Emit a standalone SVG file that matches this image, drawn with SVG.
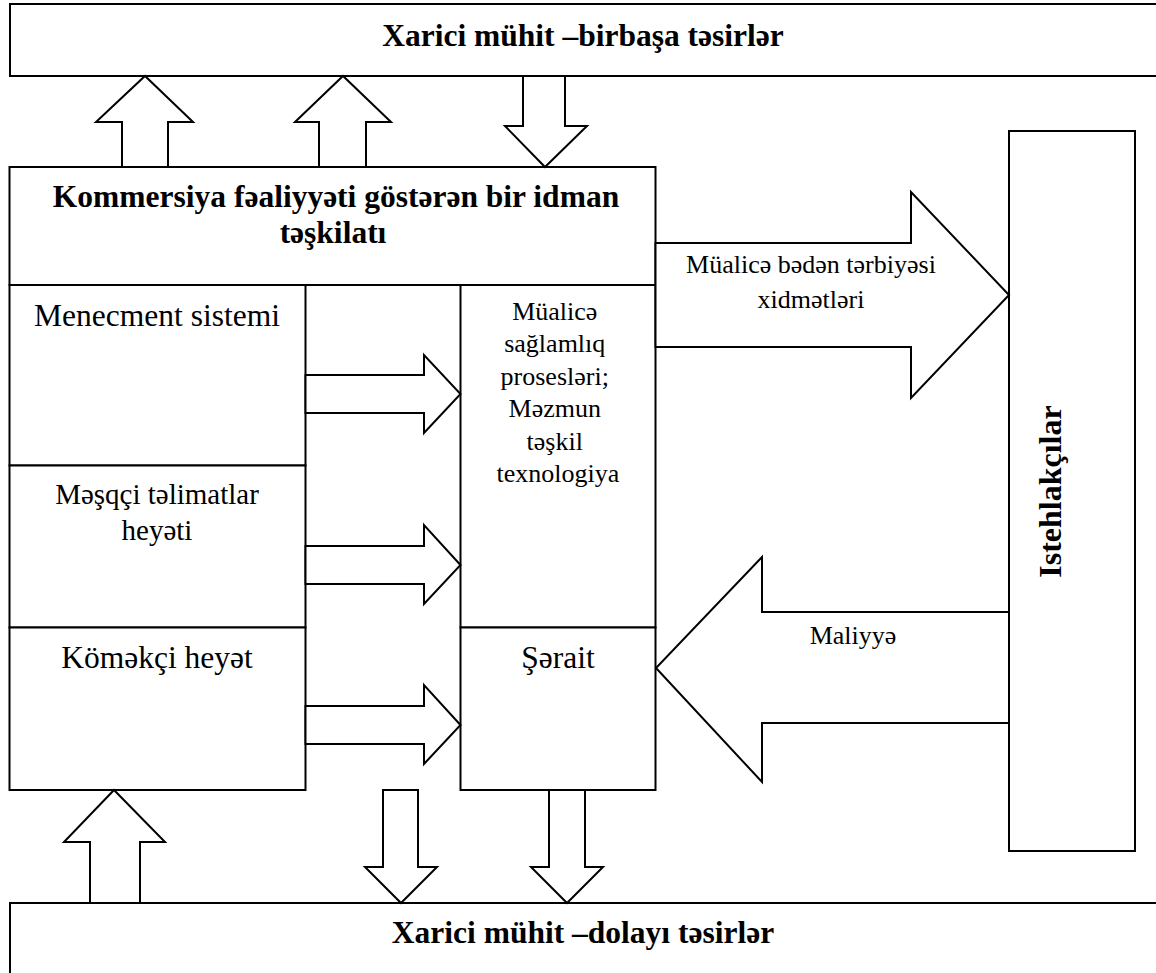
<svg xmlns="http://www.w3.org/2000/svg" width="1156" height="973" viewBox="0 0 1156 973">
<style>
.box{fill:#fff;stroke:#000;stroke-width:2}
.arr{fill:#fff;stroke:#000;stroke-width:2;stroke-linejoin:miter}
text{font-family:"Liberation Serif","DejaVu Serif",serif;fill:#000}
.b{font-weight:bold;font-size:31.5px}
.r{font-size:31.5px}
.s{font-size:26px}
.m{font-size:29px}
</style>
<rect width="1156" height="973" fill="#fff"/>
<g id="top-env">
<rect class="box" x="10" y="4" width="1160" height="72"/>
<text class="b" x="583" y="45.5" text-anchor="middle">Xarici mühit –birbaşa təsirlər</text>
</g>
<g id="org">
<rect class="box" x="9.5" y="167" width="646" height="118"/>
<text class="b" x="336" y="207" text-anchor="middle">Kommersiya fəaliyyəti göstərən bir idman</text>
<text class="b" x="333" y="243" text-anchor="middle">təşkilatı</text>
</g>
<g id="management">
<rect class="box" x="9.5" y="285" width="296" height="180.5"/>
<text class="r" x="157" y="325.5" text-anchor="middle">Menecment sistemi</text>
</g>
<g id="coaches">
<rect class="box" x="9.5" y="465.5" width="296" height="162"/>
<text class="m" x="157" y="503.5" text-anchor="middle">Məşqçi təlimatlar</text>
<text class="m" x="157" y="540" text-anchor="middle">heyəti</text>
</g>
<g id="support">
<rect class="box" x="9.5" y="627.5" width="296" height="162.5"/>
<text class="r" x="157" y="668" text-anchor="middle">Köməkçi heyət</text>
</g>
<g id="processes">
<rect class="box" x="460.5" y="285" width="195" height="342.5"/>
<text class="s" text-anchor="middle">
<tspan x="558" y="319.5">Müalicə</tspan>
<tspan x="558" y="352">sağlamlıq</tspan>
<tspan x="558" y="384.5">prosesləri;</tspan>
<tspan x="558" y="417">Məzmun</tspan>
<tspan x="558" y="449.5">təşkil</tspan>
<tspan x="558" y="482">texnologiya</tspan>
</text>
</g>
<g id="conditions">
<rect class="box" x="460.5" y="627.5" width="195" height="162.5"/>
<text class="r" x="558" y="668" text-anchor="middle">Şərait</text>
</g>
<g id="consumers">
<rect class="box" x="1009" y="131" width="126" height="720"/>
<text class="b" transform="translate(1061,491.5) rotate(-90)" x="0" y="0" text-anchor="middle" style="font-size:32px">Istehlakçılar</text>
</g>
<g id="bottom-env">
<rect class="box" x="10" y="903" width="1160" height="90"/>
<text class="b" x="583" y="943" text-anchor="middle">Xarici mühit –dolayı təsirlər</text>
</g>
<g id="connectors">
<polygon class="arr" points="122,167 122,122 96,122 145,76 193,122 168,122 168,167"/>
<polygon class="arr" points="319,167 319,122 295,122 343,76 391,122 366,122 366,167"/>
<polygon class="arr" points="523,76 523,126 505,126 545,167 587,126 565,126 565,76"/>
<polygon class="arr" points="305.5,375 424,375 424,355 460.5,394 424,433 424,413 305.5,413"/>
<polygon class="arr" points="305.5,546 424,546 424,525 460.5,565 424,604 424,584 305.5,584"/>
<polygon class="arr" points="305.5,706 424,706 424,685 460.5,725 424,764 424,744 305.5,744"/>
<polygon class="arr" points="655.5,243 911,243 911,192 1009,295 911,398 911,347 655.5,347"/>
<polygon class="arr" points="1009,612 762,612 762,557 656,668 762,782 762,723 1009,723"/>
<polygon class="arr" points="90,903 90,842 64,842 114,790 165,842 140,842 140,903"/>
<polygon class="arr" points="383,790 383,867 365,867 401,903 437,867 418,867 418,790"/>
<polygon class="arr" points="549,790 549,867 531,867 567,903 603,867 585,867 585,790"/>
<text class="s" x="811" y="272.5" text-anchor="middle">Müalicə bədən tərbiyəsi</text>
<text class="s" x="811" y="307.5" text-anchor="middle">xidmətləri</text>
<text class="s" x="853" y="644" text-anchor="middle">Maliyyə</text>
</g>
</svg>
